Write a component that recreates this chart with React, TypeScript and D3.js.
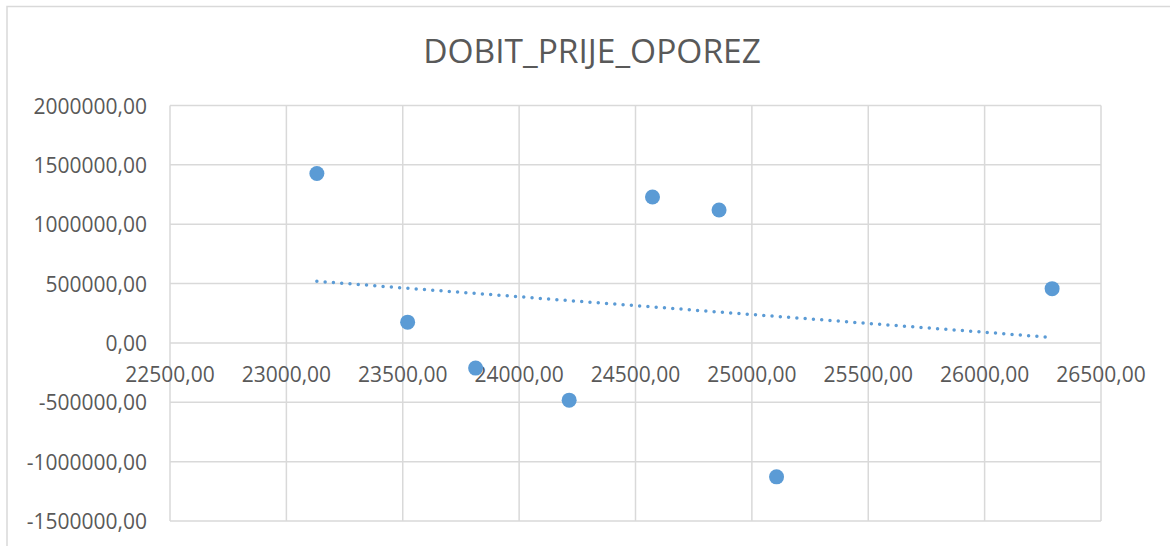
import React from 'react';
import * as d3 from 'd3';

// Scatter data (x, DOBIT_PRIJE_OPOREZ)
const xValues = [23131, 23521, 23813, 24215, 24573, 24859, 25106, 26290];
const yValues = [1427000, 175000, -212000, -482000, 1229000, 1120000, -1128000, 457000];
const xTicks = [22500, 23000, 23500, 24000, 24500, 25000, 25500, 26000, 26500];
const yTicks = [2000000, 1500000, 1000000, 500000, 0, -500000, -1000000, -1500000];
const title = 'DOBIT_PRIJE_OPOREZ';

const W = 1170;
const H = 546;
const FONT = '"Open Sans", "Liberation Sans", sans-serif';
const TEXT = '#595959';
const GRID = '#d9d9d9';
const BLUE = '#5b9bd5';

const fmt = (v: number) => v.toFixed(2).replace('.', ',');

const App = () => {
    const x = d3.scaleLinear().domain([22500, 26500]).range([170, 1101]);
    const y = d3.scaleLinear().domain([-1500000, 2000000]).range([521, 105.5]);

    const pts = xValues.map((v, i) => ({ x: v, y: yValues[i] }));

    // least-squares trendline over the data's x range (Excel linear trendline)
    const mx = d3.mean(xValues) as number;
    const my = d3.mean(yValues) as number;
    const sxy = d3.sum(pts, p => (p.x - mx) * (p.y - my));
    const sxx = d3.sum(pts, p => (p.x - mx) ** 2);
    const slope = sxy / sxx;
    const icpt = my - slope * mx;
    const [x0, x1] = d3.extent(xValues) as [number, number];
    const trend = d3.line<number>().x(d => x(d)).y(d => y(icpt + slope * d))([x0, x1]);

    return (
        <div style={{ position: 'fixed', left: 0, top: 0 }}>
            <svg width={W} height={H} style={{ display: 'block', background: '#fff' }}>
                {/* chart frame */}
                <rect x={7} y={6.5} width={W + 20} height={H + 20} fill="#fff" stroke={GRID} strokeWidth={1.5} />

                <text x={592} y={50} textAnchor="middle" dominantBaseline="central"
                      fontFamily={FONT} fontSize={33.5} fill={TEXT}>{title}</text>

                {/* gridlines */}
                {yTicks.map(t => (
                    <line key={'gy' + t} x1={x(22500)} x2={x(26500)} y1={y(t)} y2={y(t)}
                          stroke={GRID} strokeWidth={1.5} />
                ))}
                {xTicks.map(t => (
                    <line key={'gx' + t} x1={x(t)} x2={x(t)} y1={y(2000000)} y2={y(-1500000)}
                          stroke={GRID} strokeWidth={1.5} />
                ))}

                {/* y tick labels */}
                {yTicks.map(t => (
                    <text key={'ty' + t} x={147} y={y(t)} textAnchor="end" dominantBaseline="central"
                          fontFamily={FONT} fontSize={21} fill={TEXT}>{fmt(t)}</text>
                ))}
                {/* x tick labels just under the zero line */}
                {xTicks.map(t => (
                    <text key={'tx' + t} x={x(t)} y={y(0) + 31} textAnchor="middle" dominantBaseline="central"
                          fontFamily={FONT} fontSize={21} fill={TEXT}>{fmt(t)}</text>
                ))}

                {/* points */}
                {pts.map((p, i) => (
                    <circle key={i} cx={x(p.x)} cy={y(p.y)} r={7.5} fill={BLUE} />
                ))}

                {/* dotted trendline */}
                <path d={trend || ''} fill="none" stroke={BLUE} strokeWidth={3.5}
                      strokeLinecap="round" strokeDasharray="0 8.3" />
            </svg>
        </div>
    );
};

export default App;
